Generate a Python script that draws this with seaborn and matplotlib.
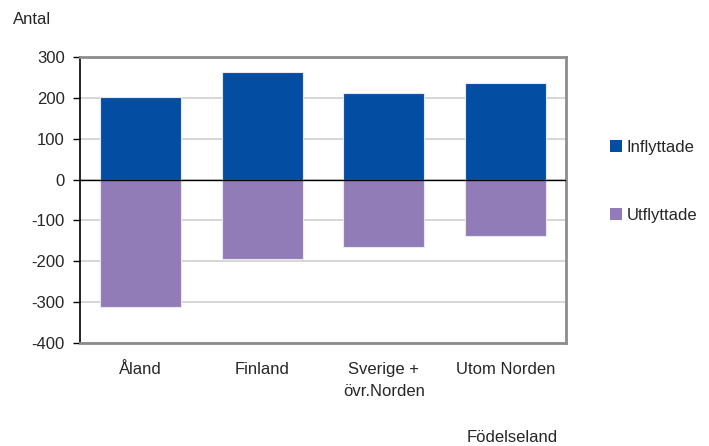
import pandas as pd
import matplotlib.pyplot as plt
import seaborn as sns

# Data
regioner = ["Åland", "Finland", "Sverige +\növr.Norden", "Utom Norden"]
inflyttade = [201, 264, 212, 237]
utflyttade = [-311, -194, -166, -138]
serier = ["Inflyttade", "Utflyttade"]
farger = ["#034EA2", "#927CB8"]

df = pd.concat([
    pd.DataFrame({"region": regioner, "antal": inflyttade, "typ": serier[0]}),
    pd.DataFrame({"region": regioner, "antal": utflyttade, "typ": serier[1]}),
])

sns.set_style("white")
plt.rcParams["font.family"] = ["Liberation Sans", "DejaVu Sans"]
plt.rcParams["axes.unicode_minus"] = False

fig = plt.figure(figsize=(7.09, 4.46), dpi=100)
ax = fig.add_axes([80 / 709, 1 - 343 / 446, 486 / 709, 286 / 446])

sns.barplot(data=df, x="region", y="antal", hue="typ", dodge=False,
            palette=farger, saturation=1, width=0.667, edgecolor="#e8e8f0",
            linewidth=0.8, ax=ax, zorder=3)

ax.set_ylim(-400, 300)
ax.set_yticks(range(-400, 301, 100))
ax.yaxis.grid(True, color="#d0d0d0", linewidth=1.2, zorder=0)
ax.axhline(0, color="black", linewidth=1, zorder=4)
ax.set_axisbelow(True)

for side in ["top", "right", "bottom"]:
    ax.spines[side].set_color("#8c8c8c")
    ax.spines[side].set_linewidth(2)
ax.spines["left"].set_color("black")
ax.spines["left"].set_linewidth(1.2)

ax.tick_params(axis="y", length=5, width=1, color="black", left=True,
               labelsize=12, pad=6)
ax.tick_params(axis="x", length=0, labelsize=12, pad=14)
for lab in ax.get_xticklabels():
    lab.set_linespacing(1.55)

ax.set_xlabel("")
ax.set_ylabel("")
fig.text(13 / 709, 1 - 20 / 446, "Antal", fontsize=12, va="center", ha="left")
fig.text(512 / 709, 1 - 437 / 446, "Födelseland", fontsize=12,
         va="center", ha="center")

ax.legend(loc="center left", bbox_to_anchor=(1.06, 0.565), frameon=False,
          fontsize=12, labelspacing=3.2, handlelength=0.7, handleheight=0.7,
          handletextpad=0.3)
for h in ax.get_legend().legend_handles:
    h.set_edgecolor("none")

fig.savefig("out.png", dpi=100)
